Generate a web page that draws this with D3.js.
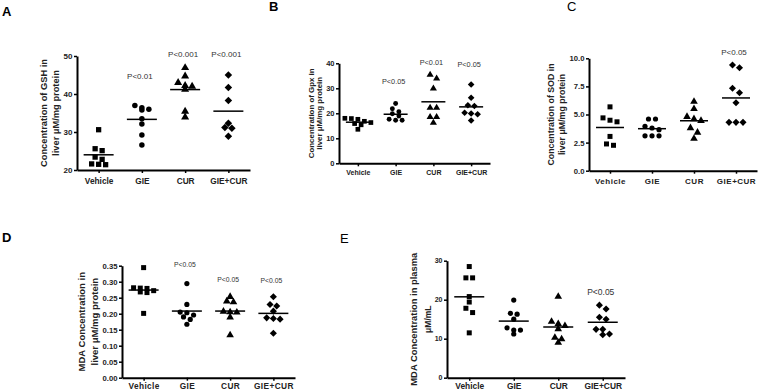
<!DOCTYPE html>
<html>
<head>
<meta charset="utf-8">
<script src="https://cdn.jsdelivr.net/npm/d3@7"></script>
<style>
  body { margin: 0; background: #fff; }
  text { font-family: "Liberation Sans", Arial, sans-serif; }
</style>
</head>
<body>
<div id="chart"></div>
<script>
// groups on every x axis
const categories = ["Vehicle", "GIE", "CUR", "GIE+CUR"];

// A - GSH in liver (uM/mg protein)
const gshValues = [
    [30.6, 25.6, 25.1, 23.4, 22.8, 21.6, 21.5, 21.4],
    [37.0, 36.4, 36.0, 35.8, 33.5, 32.1, 29.2, 26.6],
    [46.9, 44.7, 43.0, 42.2, 42.0, 41.2, 35.4, 33.9],
    [45.0, 41.7, 38.3, 32.3, 31.2, 31.0, 28.9]
];
const gshTicks = [20, 30, 40, 50];
const gshP = [null, "P<0.01", "P<0.001", "P<0.001"];
const gshPAt = [null, 44.7, 50.4, 50.4];

// B - Gpx in liver
const gpxValues = [
    [18.0, 17.9, 17.6, 16.8, 16.3, 15.9, 15.4, 13.6],
    [23.9, 21.8, 20.6, 19.8, 18.9, 17.6, 17.2, 17.2],
    [35.4, 33.9, 29.9, 22.2, 22.2, 18.5, 18.5, 16.2],
    [31.5, 26.2, 23.2, 22.9, 20.2, 19.9, 19.6, 17.1]
];
const gpxTicks = [0, 10, 20, 30, 40];
const gpxP = [null, "P<0.05", "P<0.01", "P<0.05"];
const gpxPAt = [null, 32.9, 40.4, 39.7];

// C - SOD in liver
const sodValues = [
    [5.68, 4.7, 4.49, 4.35, 3.05, 2.38, 2.26],
    [4.6, 4.6, 3.95, 3.8, 3.65, 3.1, 3.1, 3.1],
    [6.15, 5.5, 4.8, 4.6, 4.45, 3.8, 3.4, 2.85],
    [9.4, 9.16, 7.33, 6.94, 6.05, 4.3, 4.3, 4.3]
];
const sodTicks = [0, 2.5, 5, 7.5, 10];
const sodP = [null, null, null, "P<0.05"];
const sodPAt = [null, null, null, 10.5];

// D - MDA in liver
const mdaLiverValues = [
    [0.344, 0.281, 0.280, 0.279, 0.272, 0.268, 0.266, 0.201],
    [0.294, 0.229, 0.205, 0.203, 0.196, 0.190, 0.182, 0.167],
    [0.253, 0.239, 0.236, 0.207, 0.205, 0.204, 0.189, 0.133],
    [0.253, 0.229, 0.224, 0.208, 0.187, 0.185, 0.183, 0.139]
];
const mdaLiverTicks = [0, 0.05, 0.10, 0.15, 0.20, 0.25, 0.30, 0.35];
const mdaLiverP = [null, "P<0.05", "P<0.05", "P<0.05"];
const mdaLiverPAt = [null, 0.352, 0.307, 0.302];

// E - MDA in plasma (uM/mL)
const mdaPlasmaValues = [
    [28.5, 25.6, 25.6, 20.8, 19.4, 17.8, 16.7, 11.5],
    [19.9, 16.5, 16.3, 15.0, 12.8, 12.2, 12.2, 11.2],
    [20.8, 14.4, 13.8, 13.3, 12.5, 10.3, 9.9, 9.0],
    [18.6, 17.6, 15.5, 15.0, 12.4, 12.4, 11.2, 11.0]
];
const mdaPlasmaTicks = [0, 10, 20, 30];
const mdaPlasmaP = [null, null, null, "P<0.05"];
const mdaPlasmaPAt = [null, null, null, 22.0];

const svg = d3.select('#chart')
    .append('svg')
    .attr('width', 758)
    .attr('height', 391);

svg.append('rect').attr('width', 758).attr('height', 391).attr('fill', '#fff');

// marker shape per group (square, circle, triangle, diamond)
const shapes = [d3.symbolSquare, d3.symbolCircle, d3.symbolTriangle, d3.symbolSquare];

// spread points of similar value side by side, like a column scatter
function swarm(values, y, spacing, thresh) {
    let pts = values.map(v => ({ v: v, py: y(v) })).sort((a, b) => a.py - b.py);
    let rows = [];
    pts.forEach(p => {
        let last = rows[rows.length - 1];
        if (last && p.py - last[0].py < thresh) last.push(p);
        else rows.push([p]);
    });
    rows.forEach(row => row.forEach((p, i) => { p.dx = (i - (row.length - 1) / 2) * spacing; }));
    return pts;
}

function drawPanel(cfg) {
    let g = svg.append('g');

    let x = d3.scalePoint().domain(categories).range([cfg.x0, cfg.x1]).padding(0.5);
    let y = d3.scaleLinear().domain(cfg.domain).range([cfg.yBot, cfg.yTop]);

    // panel letter
    g.append('text')
        .attr('x', cfg.letterX).attr('y', cfg.letterY)
        .style('font-size', '13px')
        .style('font-weight', cfg.letterBold ? 'bold' : 'normal')
        .text(cfg.letter);

    // points
    cfg.values.forEach((vals, gi) => {
        let cx = x(categories[gi]);
        let pts = swarm(vals, y, cfg.spacing, cfg.thresh);
        let sym = d3.symbol().type(shapes[gi]).size(gi === 1 ? cfg.size * 0.85 : cfg.size);
        g.selectAll(null)
            .data(pts)
            .enter()
            .append('path')
            .attr('d', sym)
            .attr('fill', '#000')
            .attr('transform', d => `translate(${cx + d.dx},${d.py})` + (gi === 3 ? ' rotate(45)' : ''));

        // mean line
        let m = d3.mean(vals);
        g.append('line')
            .attr('x1', cx - cfg.meanW / 2).attr('x2', cx + cfg.meanW / 2)
            .attr('y1', y(m)).attr('y2', y(m))
            .attr('stroke', '#000').attr('stroke-width', 1.5);

        // p value label
        if (cfg.p[gi]) {
            g.append('text')
                .attr('x', cx - 2).attr('y', y(cfg.pAt[gi]))
                .attr('dy', '0.35em')
                .attr('text-anchor', 'middle')
                .style('font-size', cfg.pFont + 'px')
                .style('fill', '#333')
                .text(cfg.p[gi]);
        }
    });

    // y axis
    let yAxis = g.append('g')
        .attr('transform', `translate(${cfg.x0},0)`)
        .call(d3.axisLeft(y).tickValues(cfg.ticks).tickSize(3).tickSizeOuter(0).tickPadding(1.5).tickFormat(cfg.fmt));
    yAxis.select('.domain').attr('stroke-width', 2).attr('stroke', '#000');
    yAxis.selectAll('.tick line').attr('stroke-width', 1.5).attr('stroke', '#000');
    yAxis.selectAll('.tick text')
        .style('font-family', '"Liberation Sans", Arial, sans-serif')
        .style('font-size', cfg.tickFont + 'px')
        .style('font-weight', 'bold')
        .style('fill', '#222');

    // x axis
    let xAxis = g.append('g')
        .attr('transform', `translate(0,${cfg.yBot})`)
        .call(d3.axisBottom(x).tickSize(3).tickSizeOuter(0).tickPadding(cfg.catPad));
    xAxis.select('.domain').attr('stroke-width', 2).attr('stroke', '#000');
    xAxis.selectAll('.tick line').attr('stroke-width', 1.5).attr('stroke', '#000');
    xAxis.selectAll('.tick text')
        .style('font-family', '"Liberation Sans", Arial, sans-serif')
        .style('font-size', cfg.catFont + 'px')
        .style('font-weight', 'bold')
        .style('letter-spacing', cfg.catSpacing || 0)
        .style('fill', '#222');

    // y axis title, two lines
    let yc = (cfg.yTop + cfg.yBot) / 2;
    cfg.title.forEach((t, i) => {
        g.append('text')
            .attr('transform', `translate(${cfg.titleX[i]},${yc}) rotate(-90)`)
            .attr('text-anchor', 'middle')
            .attr('dy', '0.35em')
            .style('font-size', cfg.titleFont[i] + 'px')
            .style('font-weight', 'bold')
            .style('fill', '#222')
            .text(t);
    });
}

drawPanel({
    letter: 'A', letterX: 2, letterY: 16, letterBold: true,
    values: gshValues, ticks: gshTicks, p: gshP, pAt: gshPAt,
    domain: [20, 50], fmt: d3.format('d'),
    x0: 77, x1: 250, yTop: 56, yBot: 170,
    spacing: 7, thresh: 4, size: 28, meanW: 30,
    tickFont: 8, catFont: 8.3, catPad: 5, pFont: 8,
    title: ['Concentration of GSH in', 'liver μM/mg protein'], titleX: [44, 56], titleFont: [9.3, 9.3]
});

drawPanel({
    letter: 'B', letterX: 269, letterY: 11, letterBold: true,
    values: gpxValues, ticks: gpxTicks, p: gpxP, pAt: gpxPAt,
    domain: [0, 40], fmt: d3.format('d'),
    x0: 339, x1: 490, yTop: 63.3, yBot: 163.3,
    spacing: 6.5, thresh: 4.5, size: 22, meanW: 24,
    tickFont: 7.5, catFont: 7, catPad: 4, pFont: 7.3,
    title: ['Concentration of Gpx in', 'liver μM/mg protein'], titleX: [311, 319.5], titleFont: [7.9, 7.9]
});

drawPanel({
    letter: 'C', letterX: 567, letterY: 11, letterBold: false,
    values: sodValues, ticks: sodTicks, p: sodP, pAt: sodPAt,
    domain: [0, 10], fmt: d3.format('.1f'),
    x0: 589, x1: 757, yTop: 58.3, yBot: 170.7,
    spacing: 7, thresh: 5, size: 25, meanW: 28,
    tickFont: 7.7, catFont: 8, catPad: 5, catSpacing: '0.5px', pFont: 8,
    title: ['Concentration of SOD in', 'liver μM/mg protein'], titleX: [551, 562], titleFont: [8.8, 8.8]
});

drawPanel({
    letter: 'D', letterX: 2, letterY: 242, letterBold: true,
    values: mdaLiverValues, ticks: mdaLiverTicks, p: mdaLiverP, pAt: mdaLiverPAt,
    domain: [0, 0.35], fmt: d3.format('.2f'),
    x0: 122, x1: 295, yTop: 265.7, yBot: 377.7,
    spacing: 6.7, thresh: 3, size: 25, meanW: 30,
    tickFont: 7.7, catFont: 8.3, catPad: 2, catSpacing: '0.4px', pFont: 6.8,
    title: ['MDA Concentration in', 'liver μM/mg protein'], titleX: [81.5, 95], titleFont: [9.5, 9.5]
});

drawPanel({
    letter: 'E', letterX: 340, letterY: 243, letterBold: false,
    values: mdaPlasmaValues, ticks: mdaPlasmaTicks, p: mdaPlasmaP, pAt: mdaPlasmaPAt,
    domain: [0, 30], fmt: d3.format('d'),
    x0: 447, x1: 625, yTop: 260.7, yBot: 377.7,
    spacing: 6.7, thresh: 5, size: 25, meanW: 30,
    tickFont: 7, catFont: 8.4, catPad: 2, pFont: 8.5,
    title: ['MDA Concentration in plasma', 'μM/mL'], titleX: [414, 428.5], titleFont: [9.4, 8.5]
});
</script>
</body>
</html>
